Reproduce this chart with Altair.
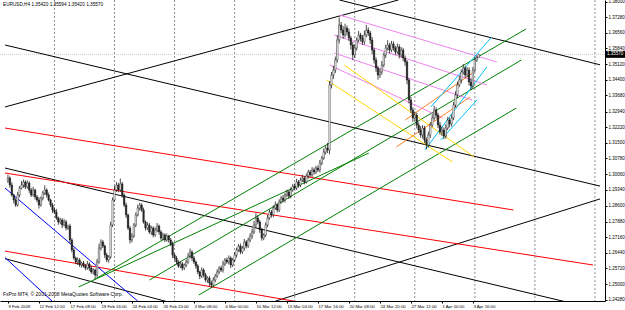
import altair as alt
import pandas as pd

# ---------------- data ----------------
close = [
 1.2988,1.2956,1.2910,1.2887,1.2864,1.2910,1.2942,1.2956,1.2970,1.2947,
 1.2965,1.2933,1.2910,1.2933,1.2901,1.2887,1.2864,1.2896,1.2919,1.2933,
 1.2910,1.2887,1.2864,1.2841,1.2832,1.2804,1.2786,1.2795,1.2772,1.2786,
 1.2758,1.2767,1.2703,1.2657,1.2620,1.2602,1.2611,1.2588,1.2597,1.2583,
 1.2574,1.2593,1.2574,1.2556,1.2565,1.2542,1.2602,1.2666,1.2694,1.2675,
 1.2634,1.2611,1.2625,1.2772,1.2887,1.2933,1.2956,1.2933,1.2961,1.2910,
 1.2864,1.2818,1.2758,1.2703,1.2721,1.2772,1.2818,1.2850,1.2864,1.2841,
 1.2786,1.2758,1.2772,1.2740,1.2758,1.2726,1.2749,1.2767,1.2740,1.2712,
 1.2726,1.2703,1.2721,1.2703,1.2685,1.2634,1.2620,1.2602,1.2583,1.2593,
 1.2574,1.2588,1.2602,1.2629,1.2648,1.2620,1.2602,1.2583,1.2556,1.2537,
 1.2565,1.2542,1.2519,1.2528,1.2505,1.2496,1.2519,1.2537,1.2556,1.2574,
 1.2565,1.2593,1.2611,1.2602,1.2620,1.2588,1.2611,1.2634,1.2657,1.2675,
 1.2648,1.2666,1.2694,1.2675,1.2703,1.2721,1.2740,1.2772,1.2804,1.2786,
 1.2749,1.2712,1.2726,1.2772,1.2804,1.2832,1.2818,1.2850,1.2864,1.2841,
 1.2878,1.2896,1.2887,1.2910,1.2924,1.2905,1.2933,1.2951,1.2942,1.2970,
 1.2956,1.2979,1.2988,1.2970,1.2997,1.3016,1.3002,1.3025,1.3016,1.3034,
 1.3025,1.3057,1.3080,1.3108,1.3126,1.3117,1.3416,1.3462,1.3485,1.3531,
 1.3623,1.3692,1.3669,1.3646,1.3678,1.3660,1.3632,1.3600,1.3554,1.3586,
 1.3623,1.3646,1.3632,1.3614,1.3646,1.3669,1.3655,1.3623,1.3577,1.3531,
 1.3494,1.3462,1.3476,1.3508,1.3554,1.3586,1.3600,1.3577,1.3605,1.3586,
 1.3568,1.3591,1.3554,1.3577,1.3540,1.3522,1.3439,1.3347,1.3301,1.3264,
 1.3278,1.3232,1.3209,1.3186,1.3218,1.3163,1.3140,1.3186,1.3232,1.3264,
 1.3301,1.3278,1.3232,1.3200,1.3209,1.3181,1.3218,1.3255,1.3237,1.3264,
 1.3324,1.3370,1.3416,1.3439,1.3476,1.3494,1.3462,1.3485,1.3430,1.3411,
 1.3485,1.3531,1.3542,1.3557,
]
first_open = 1.2975
up_pips = [
 15,8,12,6,10,14,9,18,11,7, 12,8,10,15,6,9,13,7,10,22,
 8,11,6,9,12,14,7,10,8,13, 9,6,11,8,10,7,12,9,6,10,
 8,13,7,10,9,6,14,20,12,9, 7,10,8,15,12,18,14,10,25,9,
 8,11,7,10,13,9,12,16,10,8, 11,7,13,9,10,8,12,14,7,9,
 10,8,12,6,9,11,7,10,8,12, 9,7,11,14,16,8,10,7,9,6,
 12,8,10,7,9,11,13,10,12,8, 10,14,9,11,12,8,10,13,11,9,
 12,10,14,8,11,13,15,18,22,12, 9,10,8,12,14,11,9,13,16,8,
 12,10,14,9,11,8,13,10,12,15, 9,11,14,8,12,10,9,13,11,10,
 12,14,10,16,11,24,18,14,20,16, 22,35,14,18,20,12,15,10,14,16,
 12,18,10,14,20,24,12,10,14,9, 12,10,14,18,12,16,22,10,14,12,
 10,16,12,14,10,12,9,8,14,12, 16,10,12,18,14,10,12,16,14,18,
 20,12,10,14,16,12,18,14,10,16, 14,18,16,20,12,18,10,14,12,16,
 14,12,10,2.4,
]
lo_pips = [
 10,12,8,15,9,7,11,6,13,10, 8,14,9,7,12,10,16,8,11,9,
 12,7,10,14,9,8,13,10,15,7, 11,9,16,12,8,10,14,9,12,7,
 10,8,13,9,12,18,10,8,11,9, 14,10,12,8,10,7,9,11,8,12,
 10,13,9,16,11,8,10,7,12,9, 8,12,10,9,14,11,8,10,13,9,
 11,9,8,12,10,14,9,11,8,10, 12,9,10,8,11,13,9,12,10,14,
 9,11,10,13,15,12,9,10,8,11, 9,12,10,8,11,14,9,10,12,8,
 10,9,12,11,8,10,13,9,11,10, 14,12,10,9,11,8,12,10,9,11,
 10,8,12,11,9,13,10,8,11,9, 12,10,9,11,8,13,10,9,12,10,
 9,11,10,8,12,14,20,16,18,14, 12,16,14,18,12,16,14,20,24,14,
 12,10,16,14,12,10,14,18,20,16, 18,22,14,12,10,14,12,16,10,12,
 14,10,16,12,14,18,20,16,14,18, 12,16,14,12,16,14,20,12,14,10,
 12,16,14,12,18,14,12,10,16,12, 10,12,14,10,16,12,14,10,16,18,
 12,10,8,0,
]

# time-axis labels (one every 16 bars)
time_labels = ["9 Feb 2009", "12 Feb 12:00", "17 Feb 08:00", "19 Feb 16:00",
               "24 Feb 04:00", "26 Feb 20:00", "3 Mar 08:00", "6 Mar 00:00",
               "10 Mar 12:00", "13 Mar 04:00", "17 Mar 16:00", "20 Mar 08:00",
               "24 Mar 20:00", "27 Mar 12:00", "1 Apr 00:00", "3 Apr 16:00"]
label_step = 16
price_ticks = [1.38000, 1.37280, 1.36560, 1.35840, 1.35120, 1.34400, 1.33680,
               1.32940, 1.32220, 1.31500, 1.30780, 1.30060, 1.29340, 1.28600,
               1.27880, 1.27160, 1.26440, 1.25720, 1.25000, 1.24280]
grid_bars = [24, 55, 86, 117, 148, 179, 210, 241, 272, 303]

# trend lines: (bar1, price1, bar2, price2, colour)
ln_id  = ["LA","LB","LC","LD","LE","LF","R0","R1","R2","B1","B2",
          "G1","G2","G3","G4","P1","P2","P3","P4","Y1","Y2","O1","O2","C1","C2","C3"]
ln_n1  = [-1.5,-1.5,-1.5,138.1,171.1,-1.5,-1.5,-1.5,-1.5,-1.5,-1.5,
          44.2,73.1,98.5,36.5,171.1,168.5,168.5,166.0,173.6,164.5,205.1,200.5,218.3,215.2,223.4]
ln_p1  = [1.3600,1.3034,1.2617,1.2422,1.3807,1.3315,1.3218,1.3011,1.2652,1.2942,1.2622,
          1.2519,1.2519,1.2450,1.2487,1.3738,1.3646,1.3563,1.3508,1.3508,1.3439,1.3255,1.3131,1.3315,1.3117,1.3163]
ln_n2  = [305.6,305.6,84.8,305.6,305.6,201.5,260.9,302.0,153.3,67.0,22.8,
          267.5,265.0,262.4,186.3,252.3,247.2,239.6,224.4,240.6,229.4,240.6,238.6,249.7,247.2,242.1]
ln_p2  = [1.2951,1.2381,1.2413,1.2892,1.3509,1.3807,1.2841,1.2588,1.2413,1.2422,1.2422,
          1.3674,1.3531,1.3310,1.3103,1.3522,1.3416,1.3347,1.3264,1.3085,1.3062,1.3476,1.3361,1.3637,1.3499,1.3347]
ln_col = ["#000000"]*6 + ["#ff0000"]*3 + ["#0000ff"]*2 + ["#008000"]*4 + \
         ["#ee82ee"]*4 + ["#ffd700"]*2 + ["#ff7f27"]*2 + ["#00bfff"]*3

title_text = "EURUSD,H4  1.35420 1.35594 1.35420 1.35570"
copyright_text = "FxPro MT4, \u00a9 2001-2008 MetaQuotes Software Corp."
last_price = 1.35570

# ---------------- tables ----------------
opens = [first_open] + close[:-1]
rows = []
for i, (o, c, u, d) in enumerate(zip(opens, close, up_pips, lo_pips)):
    rows.append({"n": i, "o": o, "c": c,
                 "h": max(o, c) + u * 0.0001, "l": min(o, c) - d * 0.0001,
                 "dir": "up" if c >= o else "down"})
candles = pd.DataFrame(rows)

lrows = []
for i, name in enumerate(ln_id):
    lrows.append({"id": name, "k": 0, "n": ln_n1[i], "p": ln_p1[i], "col": ln_col[i]})
    lrows.append({"id": name, "k": 1, "n": ln_n2[i], "p": ln_p2[i], "col": ln_col[i]})
lines = pd.DataFrame(lrows)

W, H = 605, 301
xs = alt.Scale(domain=[-1.52, 305.6], nice=False, zero=False)
ys = alt.Scale(domain=[1.24224, 1.3807], nice=False, zero=False)
FONT = "Liberation Sans"

label_js = "[" + ",".join("'%s'" % t for t in time_labels) + "]"
x_axis = alt.Axis(orient="bottom", values=[i * label_step for i in range(len(time_labels))],
                  labelExpr=label_js + "[round(datum.value/%d)]" % label_step,
                  labelAlign="left", labelFontSize=4.3, labelFont=FONT, labelColor="black",
                  labelPadding=1, tickSize=2, tickColor="black", domainColor="black",
                  grid=False, title=None, labelOverlap=False, labelFlush=False)
y_axis = alt.Axis(orient="right", values=price_ticks, format=".5f",
                  labelFontSize=4.5, labelFont=FONT, labelColor="black", labelPadding=1,
                  tickSize=2, tickColor="black", domainColor="black", grid=False,
                  title=None, labelOverlap=False, labelFlush=False)

X = lambda f: alt.X(f, scale=xs, axis=x_axis)
Y = lambda f: alt.Y(f, scale=ys, axis=y_axis)

grid = alt.Chart(pd.DataFrame({"n": grid_bars})).mark_rule(
    color="#707070", strokeDash=[2, 2], strokeWidth=0.8).encode(x=X("n:Q"))

price_line = alt.Chart(pd.DataFrame({"p": [last_price]})).mark_rule(
    color="#c0c0c0", strokeDash=[1, 1], strokeWidth=0.8).encode(y=Y("p:Q"))

wicks = alt.Chart(candles).mark_rule(color="black", strokeWidth=0.7).encode(
    x=X("n:Q"), y=Y("l:Q"), y2="h:Q")

bodies = alt.Chart(candles).mark_bar(size=1.5, stroke="black", strokeWidth=0.4).encode(
    x=X("n:Q"), y=Y("o:Q"), y2="c:Q",
    fill=alt.Fill("dir:N", scale=alt.Scale(domain=["up", "down"], range=["white", "#303030"]),
                  legend=None))

trend = alt.Chart(lines).mark_line(clip=True, strokeWidth=1).encode(
    x=X("n:Q"), y=Y("p:Q"), detail="id:N", order="k:Q",
    color=alt.Color("col:N", scale=None))

price_box = alt.Chart(pd.DataFrame({"p": [last_price]})).mark_rule(
    color="black", strokeWidth=7).encode(
    x=alt.value(W + 1), x2=alt.value(W + 20), y=Y("p:Q"))
price_txt = alt.Chart(pd.DataFrame({"p": [last_price], "t": ["%.5f" % last_price]})).mark_text(
    color="white", fontSize=4.5, font=FONT, align="left", baseline="middle").encode(
    x=alt.value(W + 2), y=Y("p:Q"), text="t:N")

title = alt.Chart(pd.DataFrame({"t": [title_text]})).mark_text(
    fontSize=4.7, font=FONT, align="left", baseline="top", color="black").encode(
    x=alt.value(3), y=alt.value(2), text="t:N")
copy = alt.Chart(pd.DataFrame({"t": [copyright_text]})).mark_text(
    fontSize=5, font=FONT, align="left", baseline="bottom", color="black").encode(
    x=alt.value(3), y=alt.value(H - 4), text="t:N")

chart = alt.layer(grid, price_line, trend, wicks, bodies, price_box, price_txt, title, copy).properties(
    width=W, height=H, autosize=alt.AutoSizeParams(type="none"),
    padding={"left": 0, "top": 0, "right": 625 - W, "bottom": 310 - H},
    background="white"
).configure_view(stroke=None)

chart.save("out.html", embed_options={"renderer": "svg", "actions": False})
